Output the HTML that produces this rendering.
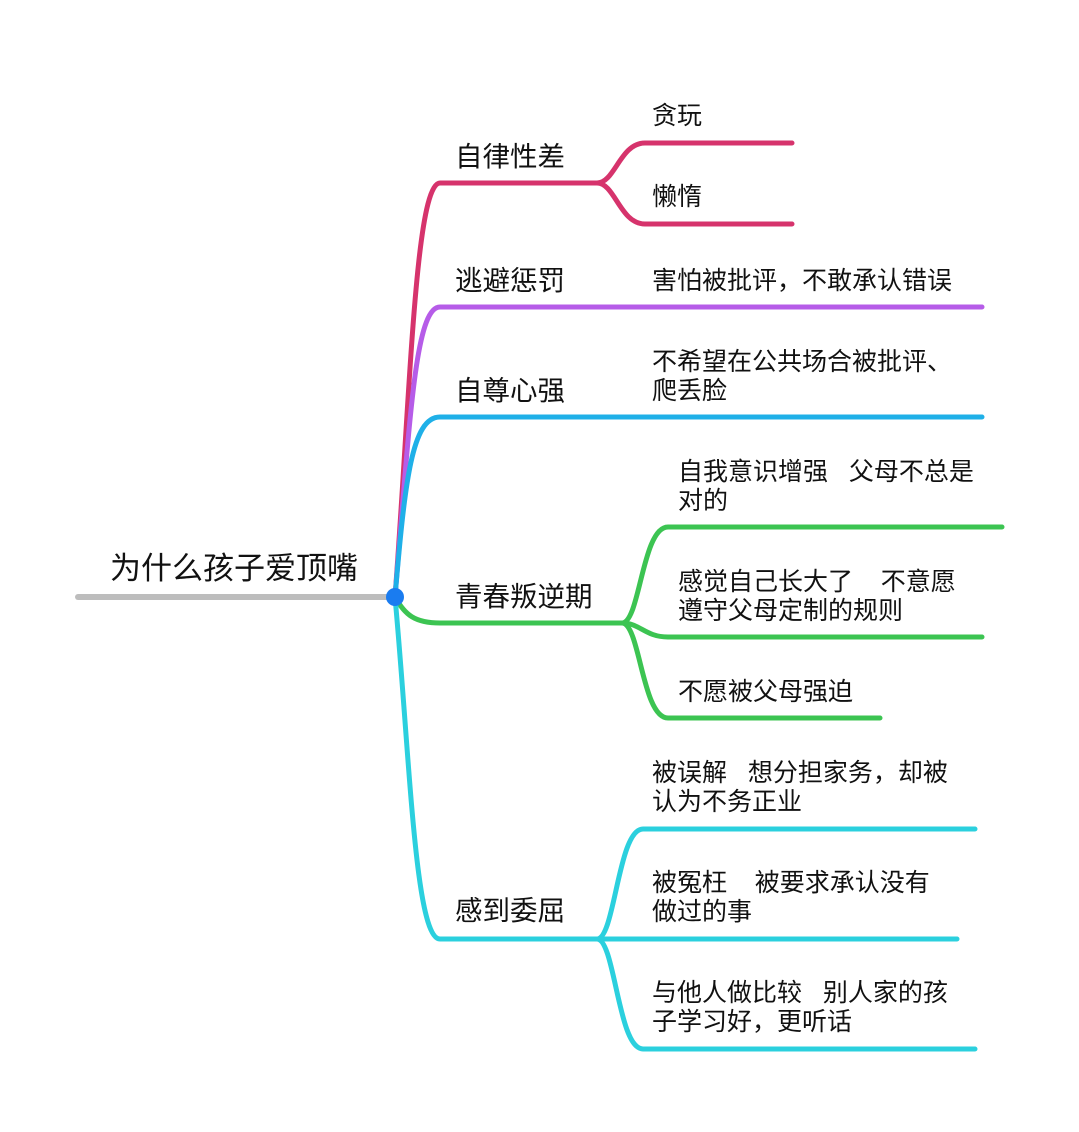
<!DOCTYPE html>
<html><head><meta charset="utf-8"><style>
html,body{margin:0;padding:0;background:#fff;}
svg text{font-family:"Liberation Sans","Noto Sans CJK SC",sans-serif;fill:#111;}
</style></head><body>
<svg width="1079" height="1127" viewBox="0 0 1079 1127" xmlns="http://www.w3.org/2000/svg">
<g fill="none" stroke-width="5" stroke-linecap="round">
<line x1="78" y1="597" x2="395" y2="597" stroke="#bdbdbd" stroke-width="6"/>
<path d="M395 597 C410 400 415 183 440 183 L597 183" stroke="#d6336c"/>
<path d="M597 183 C615 183 620 143 645 143 L792 143" stroke="#d6336c"/>
<path d="M597 183 C615 183 620 224 645 224 L792 224" stroke="#d6336c"/>
<path d="M395 597 C410 420 415 307 440 307 L982 307" stroke="#b65ce8"/>
<path d="M395 597 C405 480 412 417 440 417 L982 417" stroke="#1fb0e8"/>
<path d="M395 597 C405 615 415 623 440 623 L622 623" stroke="#3cc452"/>
<path d="M622 623 C640 623 642 527 668 527 L1002 527" stroke="#3cc452"/>
<path d="M622 623 C640 623 645 637 668 637 L982 637" stroke="#3cc452"/>
<path d="M622 623 C640 623 642 718 668 718 L880 718" stroke="#3cc452"/>
<path d="M395 597 C410 760 415 939 440 939 L597 939" stroke="#2bd0de"/>
<path d="M597 939 C615 939 618 829 643 829 L975 829" stroke="#2bd0de"/>
<path d="M597 939 L957 939" stroke="#2bd0de"/>
<path d="M597 939 C615 939 618 1049 643 1049 L975 1049" stroke="#2bd0de"/>
</g>
<circle cx="395" cy="597" r="9" fill="#1a7cf0"/>
<text x="110" y="579" font-size="31">为什么孩子爱顶嘴</text>
<g font-size="27.5">
<text x="455" y="166">自律性差</text>
<text x="455" y="290">逃避惩罚</text>
<text x="455" y="400">自尊心强</text>
<text x="455" y="606">青春叛逆期</text>
<text x="455" y="920">感到委屈</text>
</g>
<g font-size="25">
<text x="652" y="124">贪玩</text>
<text x="652" y="205">懒惰</text>
<text x="652" y="289">害怕被批评，不敢承认错误</text>
<text x="652" y="370">不希望在公共场合被批评、</text>
<text x="652" y="399">爬丢脸</text>
<text x="678" y="480">自我意识增强&#160;&#160;&#160;父母不总是</text>
<text x="678" y="509">对的</text>
<text x="678" y="590">感觉自己长大了&#160;&#160;&#160;&#160;不意愿</text>
<text x="678" y="619">遵守父母定制的规则</text>
<text x="678" y="700">不愿被父母强迫</text>
<text x="652" y="781">被误解&#160;&#160;&#160;想分担家务，却被</text>
<text x="652" y="810">认为不务正业</text>
<text x="652" y="891">被冤枉&#160;&#160;&#160;&#160;被要求承认没有</text>
<text x="652" y="920">做过的事</text>
<text x="652" y="1001">与他人做比较&#160;&#160;&#160;别人家的孩</text>
<text x="652" y="1030">子学习好，更听话</text>
</g>
</svg>
</body></html>
